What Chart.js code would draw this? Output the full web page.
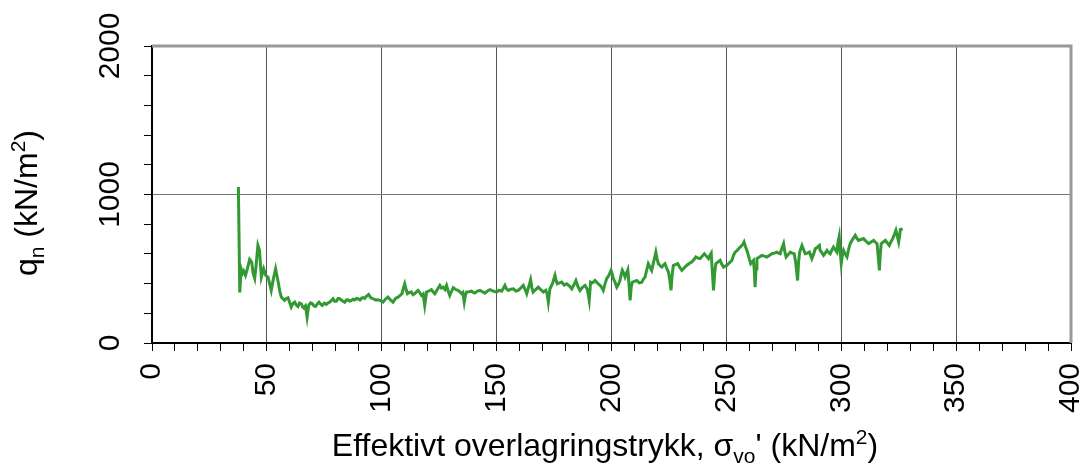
<!DOCTYPE html>
<html>
<head>
<meta charset="utf-8">
<script src="https://cdn.jsdelivr.net/npm/chart.js@4.4.1/dist/chart.umd.min.js"></script>
<style>
  html, body { margin: 0; padding: 0; background: #ffffff; }
  #wrap { width: 1090px; height: 471px; }
</style>
</head>
<body>
<div id="wrap"><canvas id="c" width="1090" height="471"></canvas></div>
<script>
// ---- Data ----
const sigma = [
  37.6, 38.2, 38.8, 39.4, 39.9, 40.7, 41.5, 42.5, 43.4, 44.0, 44.7, 45.3, 46.1, 46.8, 47.6, 48.6, 49.5, 50.5, 51.2, 51.9,
  52.8, 53.8, 54.8, 55.6, 56.3, 57.7, 58.5, 59.2, 60.0, 60.6, 61.3, 62.1, 62.8, 63.5, 64.2, 65.0, 65.5, 66.0, 66.8, 67.5,
  68.2, 69.0, 69.8, 70.5, 71.2, 72.0, 72.7, 73.4, 74.1, 75.0, 75.9, 76.6, 77.3, 78.0, 78.8, 79.5, 80.3, 81.0, 81.7, 82.8,
  83.9, 84.6, 85.3, 86.0, 86.8, 87.5, 88.2, 89.0, 89.7, 90.5, 91.2, 91.9, 92.6, 93.3, 94.3, 95.2, 96.2, 97.3, 98.4, 99.5,
  100.6, 101.6, 102.7, 103.8, 104.9, 106.0, 107.1, 108.0, 108.8, 109.4, 110.0, 110.6, 111.2, 112.0, 112.9, 113.6, 114.4, 115.1, 115.8, 116.5,
  117.3, 118.0, 118.7, 119.5, 120.5, 121.6, 122.3, 123.1, 124.2, 125.3, 126.0, 126.7, 127.5, 128.2, 128.9, 129.6, 130.3, 131.1, 132.2, 133.2,
  134.0, 134.7, 135.3, 135.9, 136.4, 136.9, 138.0, 139.1, 139.8, 140.5, 141.6, 142.7, 143.8, 144.9, 146.0, 147.1, 148.5, 150.0, 151.1, 152.2,
  153.0, 153.6, 154.3, 155.1, 156.2, 157.3, 158.4, 159.4, 160.5, 161.6, 162.4, 163.1, 164.0, 164.8, 165.4, 165.9, 167.0, 168.1, 169.2, 170.3,
  171.4, 172.0, 172.5, 173.2, 174.3, 175.4, 175.9, 176.4, 177.4, 178.3, 179.4, 180.5, 181.6, 182.7, 183.6, 184.5, 185.4, 186.3, 187.4, 188.5,
  189.5, 190.3, 190.9, 191.8, 192.8, 193.5, 194.2, 195.0, 195.7, 196.4, 197.2, 197.9, 199.0, 199.8, 200.3, 200.8, 201.5, 202.3, 203.0, 203.7,
  204.2, 204.7, 205.3, 205.9, 206.5, 207.1, 207.6, 208.1, 208.6, 209.1, 210.0, 211.0, 212.1, 213.2, 213.9, 214.6, 215.3, 216.0, 216.8, 217.5,
  218.4, 219.3, 219.8, 220.4, 221.2, 221.9, 222.6, 223.3, 224.0, 224.8, 225.4, 225.9, 226.4, 226.9, 227.8, 228.8, 229.7, 230.6, 231.6, 232.7,
  233.8, 234.9, 235.8, 236.7, 237.6, 238.6, 239.5, 240.4, 241.3, 242.2, 242.8, 243.4, 243.9, 244.4, 244.9, 245.4, 246.3, 247.3, 248.0, 248.8,
  249.5, 250.2, 251.3, 252.4, 253.1, 253.8, 254.5, 255.3, 256.0, 256.7, 257.2, 257.7, 258.3, 258.9, 259.6, 260.1, 260.6, 261.2, 261.8, 262.2,
  262.5, 262.9, 263.3, 264.4, 265.4, 266.5, 267.6, 268.7, 269.8, 270.9, 272.0, 272.7, 273.4, 274.2, 274.9, 275.4, 276.0, 276.9, 277.8, 278.6,
  279.5, 280.2, 281.0, 281.4, 281.9, 282.4, 282.9, 283.6, 284.3, 285.2, 286.2, 286.7, 287.2, 288.0, 288.7, 289.6, 290.5, 290.8, 291.5, 292.3,
  293.0, 293.8, 294.5, 295.2, 295.9, 296.6, 297.3, 298.1, 298.6, 299.1, 299.5, 300.0, 300.5, 301.0, 301.7, 302.5, 303.2, 303.9, 305.0, 306.1,
  306.8, 307.5, 308.6, 309.7, 310.8, 311.9, 313.0, 314.1, 314.8, 315.6, 316.1, 316.6, 317.0, 317.4, 318.3, 319.2, 320.0, 320.9, 321.6, 322.4,
  323.1, 323.8, 324.4, 325.0, 325.4, 325.7, 326.2, 326.7
];
const qn = [
  1050, 340, 500, 470, 485, 455, 500, 563, 545, 470, 435, 520, 657, 624, 444, 500, 455, 444, 400, 354,
  430, 500, 421, 350, 309, 287, 300, 305, 270, 242, 265, 275, 255, 246, 270, 264, 245, 237, 250, 174,
  253, 270, 264, 250, 246, 265, 275, 262, 253, 268, 260, 270, 275, 285, 298, 280, 282, 300, 298, 285,
  275, 290, 291, 282, 287, 295, 290, 300, 298, 290, 302, 305, 300, 315, 327, 305, 298, 290, 291, 285,
  275, 295, 309, 290, 275, 300, 309, 320, 332, 370, 399, 360, 332, 340, 343, 325, 332, 345, 354, 340,
  320, 330, 253, 343, 350, 359, 345, 332, 360, 388, 370, 376, 360, 388, 350, 320, 345, 372, 360, 354,
  345, 332, 340, 275, 320, 343, 345, 349, 340, 336, 350, 354, 345, 336, 350, 359, 350, 343, 355, 349,
  370, 388, 365, 354, 362, 365, 350, 354, 370, 388, 360, 332, 380, 426, 370, 343, 360, 376, 360, 343,
  355, 330, 275, 365, 400, 455, 420, 399, 405, 410, 390, 399, 385, 365, 390, 421, 380, 354, 375, 388,
  360, 287, 410, 405, 421, 410, 399, 388, 375, 354, 400, 433, 460, 489, 465, 433, 410, 376, 395, 421,
  460, 489, 470, 444, 470, 493, 400, 287, 380, 410, 415, 421, 405, 410, 430, 444, 490, 534, 510, 489,
  550, 612, 570, 534, 520, 511, 525, 534, 505, 477, 420, 354, 460, 522, 528, 534, 510, 489, 505, 522,
  535, 545, 560, 579, 572, 568, 585, 601, 585, 568, 590, 605, 480, 354, 470, 534, 545, 556, 530, 511,
  518, 522, 540, 556, 590, 612, 620, 635, 645, 657, 665, 680, 650, 624, 590, 560, 534, 545, 556, 480,
  376, 500, 568, 580, 590, 585, 579, 590, 601, 605, 612, 605, 601, 640, 669, 620, 579, 595, 612, 605,
  601, 540, 421, 540, 612, 635, 657, 630, 601, 605, 612, 590, 568, 600, 635, 645, 657, 624, 610, 590,
  605, 624, 610, 601, 625, 646, 630, 612, 680, 718, 620, 534, 590, 624, 600, 579, 630, 669, 700, 725,
  705, 691, 697, 703, 685, 669, 680, 691, 680, 669, 580, 489, 600, 669, 680, 691, 675, 657, 680, 703,
  730, 759, 720, 680, 720, 764, 766, 770
];
const xTickLabels = [0, 50, 100, 150, 200, 250, 300, 350, 400];
const yTickLabels = [0, 1000, 2000];

const FONT = '"Liberation Sans", Arial, sans-serif';
const TICK_SIZE = 30;
const TITLE_SIZE = 32;

function drawRich(ctx, parts, size) {
  let total = 0;
  const widths = parts.map(([t, k]) => {
    const s = k === 'n' ? size : Math.round(size * 0.65);
    ctx.font = s + 'px ' + FONT;
    const w = ctx.measureText(t).width;
    total += w;
    return w;
  });
  let x = -total / 2;
  parts.forEach(([t, k], i) => {
    const s = k === 'n' ? size : Math.round(size * 0.65);
    ctx.font = s + 'px ' + FONT;
    let dy = 0;
    if (k === 'sub') dy = size * 0.22;
    if (k === 'sup') dy = -size * 0.38;
    ctx.fillText(t, x, dy);
    x += widths[i];
  });
}

const decor = {
  id: 'decor',
  afterDraw(chart) {
    const ctx = chart.ctx;
    const ca = chart.chartArea;
    ctx.save();
    ctx.strokeStyle = '#999999';
    ctx.lineWidth = 3;
    ctx.beginPath();
    ctx.moveTo(ca.left, ca.top);
    ctx.lineTo(ca.right, ca.top);
    ctx.lineTo(ca.right, ca.bottom);
    ctx.stroke();

    ctx.fillStyle = '#000000';
    ctx.textBaseline = 'alphabetic';
    const ys = chart.scales.y;
    ys.ticks.forEach(t => {
      if (!yTickLabels.includes(t.value)) return;
      const py = ys.getPixelForValue(t.value);
      ctx.save();
      ctx.translate(119, py);
      ctx.rotate(-Math.PI / 2);
      ctx.font = TICK_SIZE + 'px ' + FONT;
      ctx.textAlign = 'center';
      ctx.fillText(String(t.value), 0, 0);
      ctx.restore();
    });
    ctx.textAlign = 'left';
    ctx.save();
    ctx.translate(37, 203);
    ctx.rotate(-Math.PI / 2);
    drawRich(ctx, [['q', 'n'], ['n', 'sub'], [' (kN/m', 'n'], ['2', 'sup'], [')', 'n']], TITLE_SIZE);
    ctx.restore();
    ctx.save();
    ctx.translate(605, 456);
    drawRich(ctx, [['Effektivt overlagringstrykk, \u03C3', 'n'], ['vo', 'sub'], ["' (kN/m", 'n'], ['2', 'sup'], [')', 'n']], TITLE_SIZE);
    ctx.restore();
    ctx.restore();
  }
};

const points = sigma.map((s, i) => ({ x: s, y: qn[i] }));

new Chart(document.getElementById('c'), {
  type: 'line',
  data: {
    datasets: [{
      data: points,
      borderColor: '#339933',
      borderWidth: 3,
      pointRadius: 0,
      tension: 0,
      fill: false
    }]
  },
  options: {
    responsive: false,
    animation: false,
    devicePixelRatio: 1,
    layout: { padding: { left: 0, right: 19, top: 46, bottom: 0 } },
    plugins: { legend: { display: false }, tooltip: { enabled: false } },
    scales: {
      x: {
        type: 'linear',
        min: 0, max: 400,
        afterFit(scale) { scale.height = 128; scale.paddingLeft = 0; scale.paddingRight = 0; },
        afterBuildTicks(scale) {
          const arr = [];
          for (let v = 0; v <= 400; v += 10) arr.push({ value: v });
          scale.ticks = arr;
        },
        ticks: {
          autoSkip: false,
          minRotation: 90,
          maxRotation: 90,
          padding: 12,
          color: '#000000',
          font: { family: FONT, size: TICK_SIZE },
          callback: (v) => (xTickLabels.includes(v) ? String(v) : '')
        },
        grid: {
          color: (c) => (c.tick && c.tick.value % 50 === 0 && c.tick.value !== 0 && c.tick.value !== 400) ? '#555555' : 'rgba(0,0,0,0)',
          lineWidth: 1,
          drawTicks: true,
          tickLength: 8,
          tickColor: '#000000',
          tickWidth: 1
        },
        border: { display: true, color: '#000000', width: 2 }
      },
      y: {
        type: 'linear',
        min: 0, max: 2000,
        afterFit(scale) { scale.width = 152; scale.paddingTop = 0; scale.paddingBottom = 0; },
        afterBuildTicks(scale) {
          const arr = [];
          for (let v = 0; v <= 2000; v += 200) arr.push({ value: v });
          scale.ticks = arr;
        },
        ticks: {
          autoSkip: false,
          color: '#000000',
          font: { family: FONT, size: TICK_SIZE },
          callback: () => ''
        },
        grid: {
          color: (c) => (c.tick && c.tick.value === 1000) ? '#777777' : 'rgba(0,0,0,0)',
          lineWidth: 1,
          drawTicks: true,
          tickLength: 8,
          tickColor: '#000000',
          tickWidth: 1
        },
        border: { display: true, color: '#000000', width: 2 }
      }
    }
  },
  plugins: [decor]
});
</script>
</body>
</html>
